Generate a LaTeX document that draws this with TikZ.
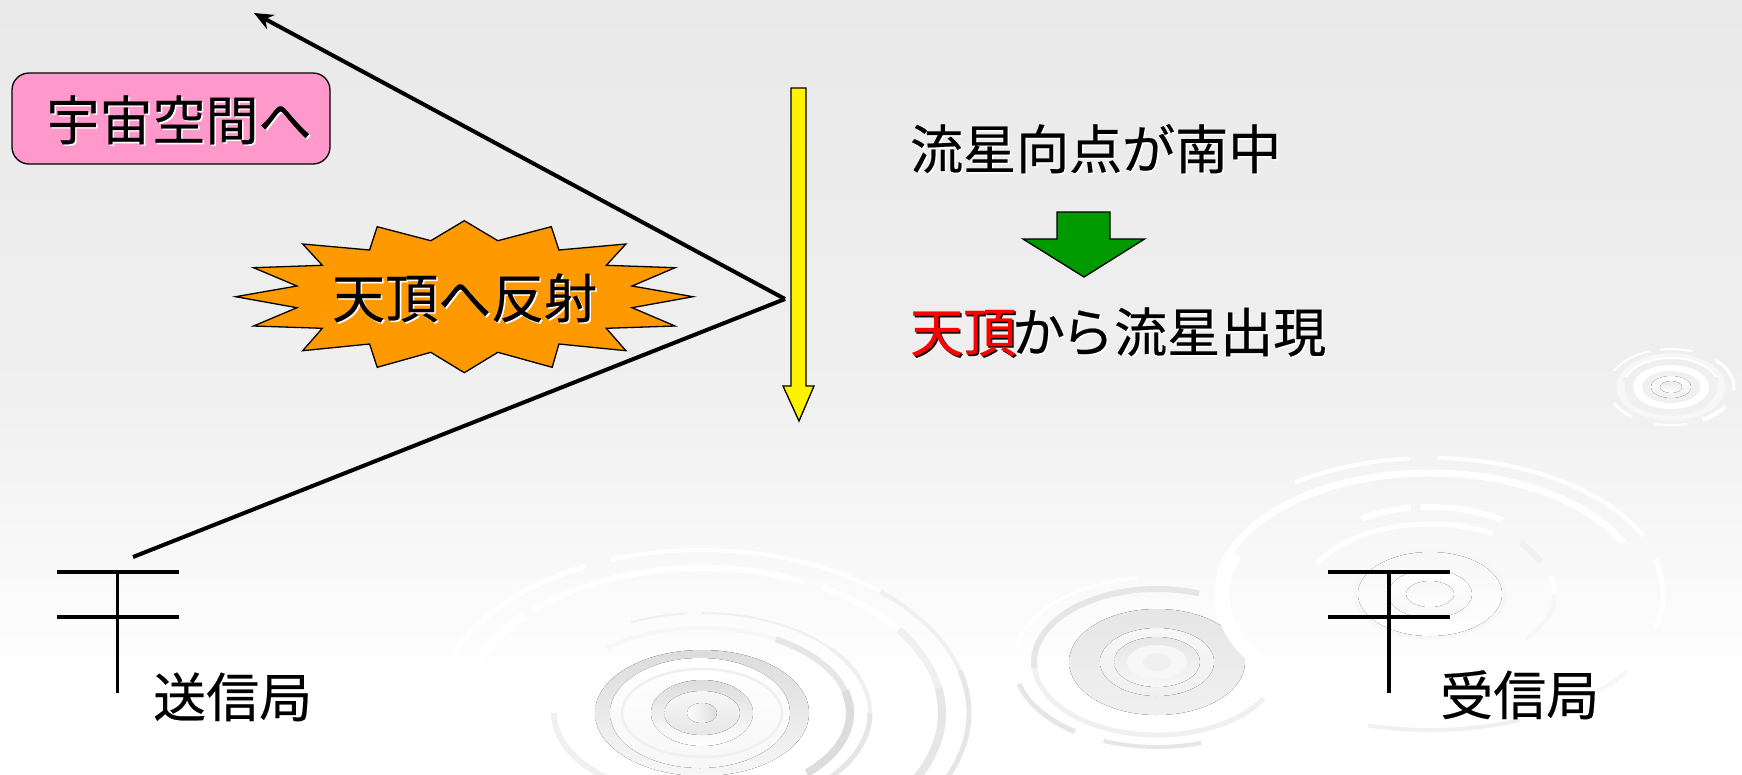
\documentclass[tikz,border=0pt]{standalone}
\usepackage{fontspec}
\setmainfont{Noto Sans CJK JP}[FakeBold=0.4]
\usetikzlibrary{arrows.meta}

\definecolor{ringa}{HTML}{DCDCDC}
\definecolor{ringb}{HTML}{E6E6E6}
\definecolor{ringc}{HTML}{F0F0F0}
\definecolor{ringd}{HTML}{F7F7F7}
\definecolor{bgtop}{HTML}{E9E9E9}
\definecolor{bgmid}{HTML}{F0F0F0}
\definecolor{boxpink}{HTML}{FF99CC}
\definecolor{burstorange}{HTML}{FF9900}
\definecolor{downgreen}{HTML}{009900}

\pgfdeclareverticalshading{bgfade}{100bp}{color(0bp)=(white); color(30.8bp)=(white); color(49.2bp)=(bgmid); color(75bp)=(bgtop); color(100bp)=(bgtop)}

\newcommand{\shadowed}[3]{\rlap{\kern1.5pt\raisebox{-1.5pt}{\color{#1}#3}}{\color{#2}#3}}
\newcommand{\rings}[1]{\foreach \rx/\ry/\a/\b/\w/\c in {#1}{
		\draw[line width=\w pt,color=\c] ({\a}:{\rx} and {\ry}) arc[start angle=\a,end angle=\b,x radius=\rx,y radius=\ry];}}

\begin{document}
\begin{tikzpicture}
		[x=1pt,y=-1pt,
		jp/.style= {inner sep=0pt,anchor=west,font=\fontsize{53}{60}\selectfont,text height=44pt,text depth=8pt},
		beam/.style= {line width=4pt,draw=black},
		pole/.style= {line width=3.8pt,draw=black},
		outline/.style= {line width=1.3pt,draw=black},
		spacebox/.style= {outline,fill=boxpink,rounded corners=17pt,inner sep=0pt,minimum width=318pt,minimum height=91pt,font=\fontsize{53}{60}\selectfont,text height=51pt,text depth=8pt}]

	\useasboundingbox (0,0) rectangle (1742,774);
	\shade[shading=bgfade] (0,0) rectangle (1742,774);

	\begin{scope}
		\clip (0,0) rectangle (1742,774);

		% ripples, back to front
		\begin{scope}[shift={(702,713)}]
			\rings{267/163/190/244/5/white,267/163/250/312/4/white,267/163/312/345/4/ringc,267/163/345/420/5/ringb,
				240/145/225/295/6/white,240/145/180/222/8/white,240/145/300/325/6/white,240/145/325/350/7/ringc,240/145/350/410/8/ringb,
				168/100/245/265/2/ringc,168/100/270/320/2/ringc,168/100/320/360/4/ringc,168/100/360/404/5/ringb,
				148/85/230/300/4/ringd,148/85/300/345/6/ringb,148/85/345/405/8/ringa,148/85/90/180/6/ringc}
			\fill[top color=ringa,bottom color=ringd] (0,0) ellipse [x radius=107,y radius=63];
			\fill[top color=white,bottom color=ringd] (-2,0) ellipse [x radius=90,y radius=55];
			\draw[line width=2.5pt,ringc] (0,0) ellipse [x radius=80,y radius=44];
			\fill[top color=ringa,bottom color=white] (0,0) ellipse [x radius=51,y radius=33];
			\fill[top color=ringd,bottom color=ringb] (0,0) ellipse [x radius=38,y radius=22];
			\fill[left color=white,right color=ringa] (0,0) ellipse [x radius=15,y radius=10];
		\end{scope}

		\begin{scope}[shift={(1157,662)}]
			\rings{143/85/190/262/3/white,143/85/125/165/5/ringb,143/85/72/112/4/ringb,
				123/73/175/290/6/ringb,123/73/30/175/5/ringc}
			\fill[top color=ringb,bottom color=ringc] (0,0) ellipse [x radius=88,y radius=53];
			\fill[top color=ringd,bottom color=ringc] (0,0) ellipse [x radius=57,y radius=34];
			\fill[top color=ringb,bottom color=ringd] (0,0) ellipse [x radius=43,y radius=25];
			\fill[ringd] (0,0) ellipse [x radius=30,y radius=17];
			\fill[ringc] (0,0) ellipse [x radius=14,y radius=9];
		\end{scope}

		\begin{scope}[shift={(1430,594)}]
			\rings{208/118/100/200/15/white,236/136/235/265/4/white,236/136/272/335/4/white,
				213/121/190/335/7/white,233/134/345/375/5/white,
				240/136/68/105/4/ringc,240/136/35/62/4/ringd,
				137/87/240/262/6/white,137/87/266/302/6/white,125/70/205/300/5/white,122/76/318/335/6/ringc,
				125/70/345/360/5/white,125/70/360/400/4/ringd,
				75/44/0/360/3/ringd}
			\fill[top color=ringd,bottom color=white] (0,0) ellipse [x radius=72,y radius=42];
			\fill[top color=white,bottom color=ringd] (0,0) ellipse [x radius=42,y radius=24];
			\fill[top color=ringd,bottom color=white] (0,0) ellipse [x radius=24,y radius=13];
		\end{scope}

		\begin{scope}[shift={(1671,387)}]
			\rings{63/38/205/250/2/white,63/38/260/290/2/white,63/38/315/365/3/white,
				63/38/30/60/4/white,63/38/75/105/2/white,63/38/128/155/3/white,
				52/31/0/360/5/ringd,
				48/29/200/340/2/white,48/29/150/190/3/ringd,48/29/350/400/3/ringd}
			\fill[white] (0,0) ellipse [x radius=38,y radius=22];
			\fill[bgmid] (0,0) ellipse [x radius=29,y radius=16];
			\fill[top color=white,bottom color=bgmid] (0,0) ellipse [x radius=20,y radius=11];
			\fill[top color=bgtop,bottom color=white] (0,0) ellipse [x radius=11,y radius=6];
		\end{scope}
	\end{scope}

	\coordinate (apex) at (785,299);
	\coordinate (spacetip) at (254,13);
	\coordinate (txend) at (133,557);

	\draw[beam] (txend) -- (apex);
	\draw[beam,-{Stealth[length=19pt,width=16pt]}] (apex) -- (spacetip);

	\node[spacebox] (toSpace) at (171,118.5) {\hspace*{16pt}\shadowed{white}{black}{宇宙空間へ}};

	\draw[outline,fill=burstorange,line join=miter]
		(464.3,220.7) -- (497.8,240.7) -- (551.3,226.7) -- (558.9,250) -- (625.9,244) -- (606.3,265.3)
		-- (675,267.7) -- (632.1,286) -- (692.9,296.7) -- (632.1,307.7) -- (675,326) -- (606.3,328.3)
		-- (625.9,350.7) -- (558.9,344) -- (552.2,367.3) -- (497.8,352.3) -- (464.3,372.7) -- (430.8,352.3)
		-- (377.2,367.3) -- (369.6,344) -- (302.7,350.7) -- (322.3,328.3) -- (253.6,326) -- (296.9,307.7)
		-- (235.7,296.7) -- (296.9,286) -- (253.6,267.7) -- (322.3,265.3) -- (302.7,244) -- (369.6,250)
		-- (377.2,226.7) -- (430.8,240.7) -- cycle;
	\node[jp] (toZenith) at (332,300) {\shadowed{white}{black}{天頂へ反射}};

	% falling meteor
	\draw[outline,fill=yellow] (791,88) -- (806,88) -- (806,386) -- (814,386) -- (799,421) -- (783,386) -- (791,386) -- cycle;

	\node[jp] (transit) at (910,151) {\shadowed{white}{black}{流星向点が南中}};
	\draw[outline,fill=downgreen] (1057,212) -- (1110,212) -- (1110,239) -- (1144.5,239) -- (1084,277) -- (1023,239) -- (1057,239) -- cycle;
	\node[jp] (appear) at (910,334) {\rlap{\kern1.5pt\raisebox{-1.5pt}{{\color{black}天頂}\kern-4pt{\color{white}か\kern-4pt ら流星出現}}}{\color{red}天頂}\kern-4pt か\kern-4pt ら流星出現};

	\coordinate (txtop) at (117.5,572);
	\coordinate (txfoot) at (117.5,693);
	\coordinate (txa) at (57,572);
	\coordinate (txb) at (178.5,572);
	\coordinate (txc) at (57,617);
	\coordinate (txd) at (178.5,617);
	\draw[pole] (txtop) -- (txfoot);
	\draw[pole] (txa) -- (txb);
	\draw[pole] (txc) -- (txd);
	\node[jp] (sender) at (153,699) {送信局};

	\coordinate (rxtop) at (1389,572);
	\coordinate (rxfoot) at (1389,693);
	\coordinate (rxa) at (1328,572);
	\coordinate (rxb) at (1449.5,572);
	\coordinate (rxc) at (1328,617);
	\coordinate (rxd) at (1449.5,617);
	\draw[pole] (rxtop) -- (rxfoot);
	\draw[pole] (rxa) -- (rxb);
	\draw[pole] (rxc) -- (rxd);
	\node[jp] (receiver) at (1440,697) {受信局};

\end{tikzpicture}
\end{document}
